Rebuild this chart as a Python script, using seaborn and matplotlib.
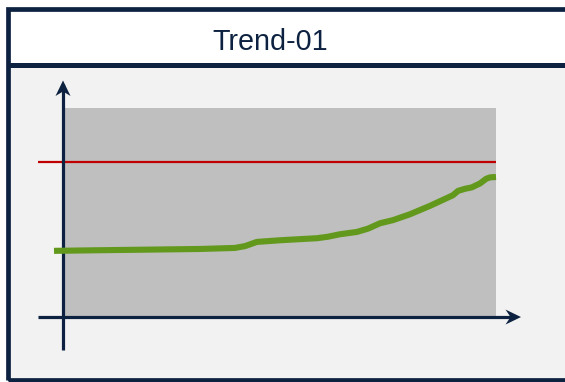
import numpy as np
import matplotlib
matplotlib.use("Agg")
import matplotlib.pyplot as plt
import matplotlib.patches as mpatches
import matplotlib.transforms as mtransforms
import seaborn as sns

# ---- data -------------------------------------------------------------
title = "Trend-01"
trend_x = [-2.55, 8.1, 19.7, 31.3, 39.4, 41.8, 44.5, 49.9, 58.5, 61.0,
           63.8, 67.7, 70.3, 73.1, 76.1, 80.0, 84.7, 90.0, 91.2, 92.8,
           94.4, 96.3, 97.7, 98.6, 100.0]
trend_y = [31.4, 31.7, 32.0, 32.3, 32.8, 33.7, 35.7, 36.5, 37.5, 38.2,
           39.4, 40.5, 42.1, 44.7, 46.2, 49.0, 53.1, 58.2, 60.3, 61.3,
           62.0, 63.9, 66.1, 66.8, 67.0]
threshold = 74.0
band_x = [0, 100]
band_y = [0, 100]

# ---- styling ----------------------------------------------------------
NAVY = "#0d2240"
GREEN = "#62991c"
RED = "#c00000"
BAND = "#bfbfbf"
PANEL = "#f2f2f2"

W, H, DPI = 565, 382, 100
fig = plt.figure(figsize=(W / DPI, H / DPI), dpi=DPI)
fig.patch.set_facecolor("white")

def fx(px):
    return px / W

def fy(py):
    return 1 - py / H

# panel background below the title bar
fig.patches.append(mpatches.Rectangle((fx(8), fy(381)), fx(570) - fx(8), fy(65) - fy(381),
                                      transform=fig.transFigure, facecolor=PANEL,
                                      edgecolor="none", zorder=-2))
# separator under the title bar
fig.patches.append(mpatches.Rectangle((fx(8), fy(67.5)), fx(570) - fx(8), fy(62.5) - fy(67.5),
                                      transform=fig.transFigure, facecolor=NAVY,
                                      edgecolor="none", zorder=5))
# outer frame
fig.patches.append(mpatches.Rectangle((fx(8.2), fy(380.2)), fx(575) - fx(8.2), fy(8.7) - fy(380.2),
                                      transform=fig.transFigure, facecolor="none",
                                      edgecolor=NAVY, linewidth=3.4, zorder=6))

fig.text(fx(270), fy(50.5), title, ha="center", va="baseline",
         fontsize=20.7, color=NAVY, family=["Liberation Sans", "DejaVu Sans"])

# ---- chart axes -------------------------------------------------------
xlim = (-13, 116)
ylim = (-30, 120)
px_per_x = (496 - 65) / (band_x[1] - band_x[0])
px_per_y = (316 - 108.5) / (band_y[1] - band_y[0])
ax_left = 65 + xlim[0] * px_per_x
ax_right = 65 + xlim[1] * px_per_x
ax_bottom = 316 - ylim[0] * px_per_y
ax_top = 316 - ylim[1] * px_per_y
ax = fig.add_axes([fx(ax_left), fy(ax_bottom), fx(ax_right) - fx(ax_left),
                   fy(ax_top) - fy(ax_bottom)])
ax.set_zorder(3)
ax.set_xlim(*xlim)
ax.set_ylim(*ylim)
ax.set_facecolor("none")
ax.axis("off")

# range band
ax.add_patch(mpatches.Rectangle((band_x[0], band_y[0]), band_x[1] - band_x[0],
                                band_y[1] - band_y[0], facecolor=BAND,
                                edgecolor="none", zorder=1))

# axis lines
x_axis_y = -0.5
y_axis_x = -0.46
ax.plot([-6.26, 104.5], [x_axis_y, x_axis_y], color=NAVY, lw=2.3,
        solid_capstyle="butt", zorder=3)
ax.plot([y_axis_x, y_axis_x], [-16.3, 112], color=NAVY, lw=2.3,
        solid_capstyle="butt", zorder=3)

# stealth arrow heads, shaped in pixels and placed at the axis ends
def arrow_head(tip, verts):
    tx, ty = ax.transData.transform(tip)
    tr = mtransforms.Affine2D().translate(tx, ty)
    ax.add_patch(mpatches.Polygon(verts, closed=True, transform=tr,
                                  facecolor=NAVY, edgecolor="none", zorder=4))

arrow_head((105.8, x_axis_y), [(0, 0), (-15.5, 7.5), (-10.5, 0), (-15.5, -7.5)])
arrow_head((y_axis_x, 113.5), [(0, 0), (7.5, -15.5), (0, -11), (-7.5, -15.5)])

# threshold line
ax.plot([-6.26, band_x[1]], [threshold, threshold], color=RED, lw=1.6,
        solid_capstyle="butt", zorder=2)

# trend line
sns.lineplot(x=trend_x, y=trend_y, ax=ax, color=GREEN, linewidth=4.4,
             sort=False, zorder=5, solid_capstyle="butt", solid_joinstyle="round")

fig.savefig("out.png", dpi=DPI)
